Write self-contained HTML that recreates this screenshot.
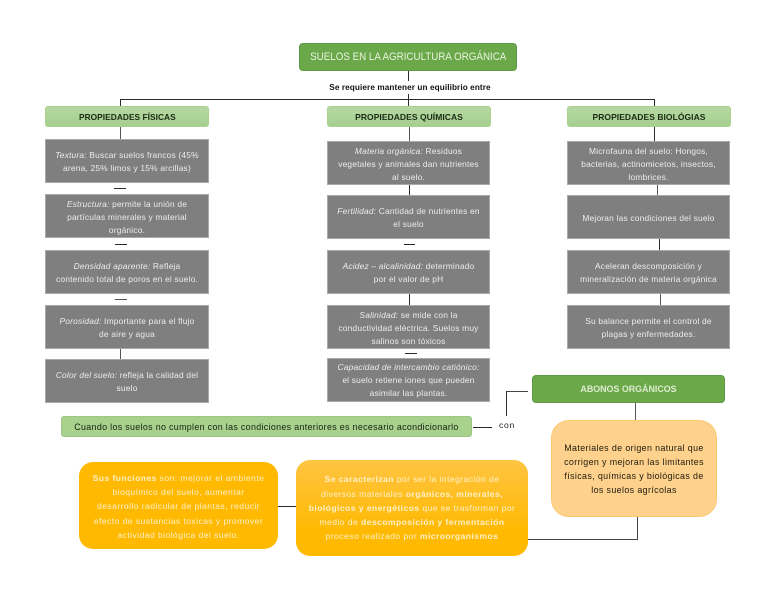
<!DOCTYPE html>
<html lang="es"><head><meta charset="utf-8"><style>
html,body{margin:0;padding:0;background:#fff}
#p{position:relative;width:768px;height:594px;overflow:hidden;font-family:"Liberation Sans",sans-serif}
.b{position:absolute;display:flex;align-items:center;justify-content:center;text-align:center;box-sizing:border-box}
.g{background:#7f7f7f;color:#ececec;font-size:8.4px;line-height:13px;border:1px solid #a9a9a9;padding:2px 6px 0;letter-spacing:.2px}
.h{background:linear-gradient(#b5d8a2,#a5cf90);border:1px solid #a9d18e;border-radius:3px;color:#1b2a12;font-weight:bold;font-size:8.5px;letter-spacing:.05px;white-space:nowrap}
.l{position:absolute;background:#2b2b2b}
.o{color:#fff0c8;font-size:8.6px;line-height:14.2px;letter-spacing:.42px}
.o b{font-weight:bold}
i{font-style:italic}
</style></head><body><div id="p">
<div class="l" style="left:408px;top:70px;width:1px;height:11px"></div>
<div class="l" style="left:408px;top:94px;width:1px;height:12px"></div>
<div class="l" style="left:120px;top:99px;width:534px;height:1px"></div>
<div class="l" style="left:120px;top:99px;width:1px;height:7px"></div>
<div class="l" style="left:654px;top:99px;width:1px;height:7px"></div>
<div class="l" style="left:120px;top:127px;width:1px;height:13px;background:#555"></div>
<div class="l" style="left:409px;top:127px;width:1px;height:14px;background:#555"></div>
<div class="l" style="left:654px;top:127px;width:1px;height:14px"></div>
<div class="l" style="left:114px;top:188px;width:12px;height:1px"></div>
<div class="l" style="left:115px;top:244px;width:12px;height:1px"></div>
<div class="l" style="left:115px;top:299px;width:12px;height:1px;background:#555"></div>
<div class="l" style="left:120px;top:349px;width:1px;height:10px;background:#555"></div>
<div class="l" style="left:409px;top:185px;width:1px;height:10px"></div>
<div class="l" style="left:404px;top:244px;width:11px;height:1px"></div>
<div class="l" style="left:409px;top:293px;width:1px;height:12px"></div>
<div class="l" style="left:405px;top:353px;width:12px;height:1px"></div>
<div class="l" style="left:657px;top:185px;width:1px;height:10px;background:#555"></div>
<div class="l" style="left:659px;top:238px;width:1px;height:12px"></div>
<div class="l" style="left:660px;top:293px;width:1px;height:12px;background:#555"></div>
<div class="l" style="left:506px;top:391px;width:22px;height:1px;background:#444"></div>
<div class="l" style="left:506px;top:391px;width:1px;height:25px"></div>
<div class="l" style="left:473px;top:427px;width:19px;height:1px"></div>
<div class="l" style="left:635px;top:403px;width:1px;height:17px;background:#555"></div>
<div class="l" style="left:637px;top:517px;width:1px;height:23px;background:#444"></div>
<div class="l" style="left:528px;top:539px;width:110px;height:1px;background:#444"></div>
<div class="l" style="left:278px;top:506px;width:18px;height:1px"></div>

<div class="b" style="left:299px;top:43px;width:218px;height:28px;background:#6aa84a;border:1px solid #5f9a41;border-radius:4px;color:#eaf3e0;font-size:11px;white-space:nowrap"><span style="display:inline-block;flex:none;transform:scaleX(.89)">SUELOS EN LA AGRICULTURA ORGÁNICA</span></div>
<div class="b" style="left:310px;top:81px;width:200px;height:13px;color:#111;font-size:8.2px;font-weight:bold;letter-spacing:.1px;white-space:nowrap">Se requiere mantener un equilibrio entre</div>

<div class="b h" style="left:45px;top:106px;width:164px;height:21px"><span style="display:inline-block;transform:scaleX(.98)">PROPIEDADES FÍSICAS</span></div>
<div class="b h" style="left:327px;top:106px;width:164px;height:21px">PROPIEDADES QUÍMICAS</div>
<div class="b h" style="left:567px;top:106px;width:164px;height:21px">PROPIEDADES BIOLÓGIAS</div>

<div class="b g" style="left:45px;top:139px;width:164px;height:44px"><span><i>Textura:</i> Buscar suelos francos (45% arena, 25% limos y 15% arcillas)</span></div>
<div class="b g" style="left:45px;top:194px;width:164px;height:44px"><span><i>Estructura:</i> permite la unión de<br>partículas minerales y material<br>orgánico.</span></div>
<div class="b g" style="left:45px;top:250px;width:164px;height:44px"><span><i>Densidad aparente:</i> Refleja<br>contenido total de poros en el suelo.</span></div>
<div class="b g" style="left:45px;top:305px;width:164px;height:44px"><span><i>Porosidad:</i> Importante para el flujo<br>de aire y agua</span></div>
<div class="b g" style="left:45px;top:359px;width:164px;height:44px"><span><i>Color del suelo:</i> refleja la calidad del<br>suelo</span></div>

<div class="b g" style="left:327px;top:141px;width:163px;height:44px"><span><i>Materia orgánica:</i> Residuos<br>vegetales y animales dan nutrientes<br>al suelo.</span></div>
<div class="b g" style="left:327px;top:195px;width:163px;height:44px"><span><i>Fertilidad:</i> Cantidad de nutrientes en<br>el suelo</span></div>
<div class="b g" style="left:327px;top:250px;width:163px;height:44px"><span><i>Acidez – alcalinidad:</i> determinado<br>por el valor de pH</span></div>
<div class="b g" style="left:327px;top:305px;width:163px;height:44px"><span><i>Salinidad:</i> se mide con la<br>conductividad eléctrica. Suelos muy<br>salinos son tóxicos</span></div>
<div class="b g" style="left:327px;top:358px;width:163px;height:44px;padding:0;white-space:nowrap"><span><i>Capacidad de intercambio catiónico:</i><br>el suelo retiene iones que pueden<br>asimilar las plantas.</span></div>

<div class="b g" style="left:567px;top:141px;width:163px;height:44px"><span>Microfauna del suelo: Hongos,<br>bacterias, actinomicetos, insectos,<br>lombrices.</span></div>
<div class="b g" style="left:567px;top:195px;width:163px;height:44px"><span>Mejoran las condiciones del suelo</span></div>
<div class="b g" style="left:567px;top:250px;width:163px;height:44px"><span>Aceleran descomposición y<br>mineralización de materia orgánica</span></div>
<div class="b g" style="left:567px;top:305px;width:163px;height:44px"><span>Su balance permite el control de<br>plagas y enfermedades.</span></div>

<div class="b" style="left:532px;top:375px;width:193px;height:28px;background:#6aa84a;border:1px solid #5f9a41;border-radius:4px;color:#dfeccf;font-size:8.9px;font-weight:bold">ABONOS ORGÁNICOS</div>
<div class="b" style="left:61px;top:416px;width:411px;height:21px;background:#a9d18e;border:1px solid #9cc681;border-radius:3px;color:#16210f;font-size:8.9px;letter-spacing:.33px;white-space:nowrap">Cuando los suelos no cumplen con las condiciones anteriores es necesario acondicionarlo</div>
<div class="b" style="left:495px;top:418px;width:24px;height:13px;color:#222;font-size:8.6px;letter-spacing:.7px">con</div>

<div class="b" style="left:551px;top:420px;width:166px;height:97px;background:#fed28c;border:1px solid #fcc971;border-radius:18px;color:#1f1a0e;font-size:8.9px;line-height:14px;letter-spacing:.38px;white-space:nowrap"><span>Materiales de origen natural que<br>corrigen y mejoran las limitantes<br>físicas, químicas y biológicas de<br>los suelos agrícolas</span></div>

<div class="b o" style="left:79px;top:462px;width:199px;height:87px;background:#ffb900;border-radius:14px;padding-top:2px;white-space:nowrap"><span><b>Sus funciones</b> son: mejorar el ambiente<br>bioquímico del suelo, aumentar<br>desarrollo radicular de plantas, reducir<br>efecto de sustancias toxicas y promover<br>actividad biológica del suelo.</span></div>

<div class="b o" style="left:296px;top:460px;width:232px;height:96px;background:linear-gradient(#ffc443,#ffb900 75%);border-radius:14px;white-space:nowrap"><span><b>Se caracterizan</b> por ser la integración de<br>diversos materiales <b>orgánicos, minerales,</b><br><b>biológicos y energéticos</b> que se trasforman por<br>medio de <b>descomposición y fermentación</b><br>proceso realizado por <b>microorganismos</b></span></div>
</div></body></html>
